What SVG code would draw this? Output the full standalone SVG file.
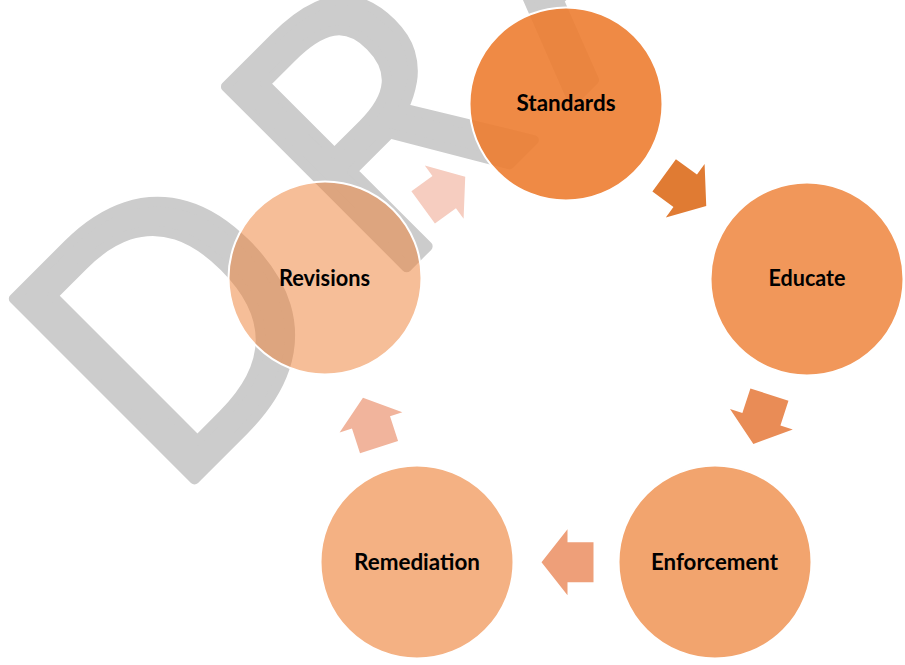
<svg xmlns="http://www.w3.org/2000/svg" width="905" height="665" viewBox="0 0 905 665">
  <style>
    .node { fill: #ED7D31; stroke: #FFFFFF; stroke-width: 2; }
    .label { font-family: Lato, "Open Sans", "Liberation Sans", sans-serif; font-weight: bold; font-size: 22px; fill: #000000; text-anchor: middle; }
    .wm { font-family: "Open Sans", "Noto Sans", sans-serif; font-size: 358px; fill: #CCCCCC; stroke: #CCCCCC; stroke-width: 10; stroke-linejoin: round; }
  </style>
  <defs>
    <polygon id="arrow" points="-26,-20 0,-20 0,-33 26,0 0,33 0,20 -26,20"/>
  </defs>
  <rect width="905" height="665" fill="#FFFFFF"/>
  <g id="watermark" transform="translate(191,483) rotate(-45)">
    <text class="wm"><tspan x="-30" y="0">D</tspan><tspan x="270" y="0">R</tspan><tspan x="540" y="0">A</tspan>FT</text>
  </g>
  <g id="node-standards">
    <circle class="node" cx="566" cy="104" r="96.5" fill-opacity="0.9"/>
    <text class="label" x="566" y="110.5" textLength="99" lengthAdjust="spacingAndGlyphs">Standards</text>
  </g>
  <g id="node-educate">
    <circle class="node" cx="807" cy="279" r="96.5" fill-opacity="0.8"/>
    <text class="label" x="807" y="286" textLength="77" lengthAdjust="spacingAndGlyphs">Educate</text>
  </g>
  <g id="node-enforcement">
    <circle class="node" cx="715" cy="562" r="96.5" fill-opacity="0.7"/>
    <text class="label" x="714.5" y="570" textLength="127" lengthAdjust="spacingAndGlyphs">Enforcement</text>
  </g>
  <g id="node-remediation">
    <circle class="node" cx="417" cy="562" r="96.5" fill-opacity="0.6"/>
    <text class="label" x="417" y="570" textLength="126" lengthAdjust="spacingAndGlyphs">Remediation</text>
  </g>
  <g id="node-revisions">
    <circle class="node" cx="325" cy="278" r="96.5" fill-opacity="0.5"/>
    <text class="label" x="324.5" y="286" textLength="91" lengthAdjust="spacingAndGlyphs">Revisions</text>
  </g>
  <g id="connectors">
    <use href="#arrow" transform="translate(685.2,190.7) rotate(36)" fill="#E07B33"/>
    <use href="#arrow" transform="translate(761.4,419.3) rotate(108)" fill="#E98C56"/>
    <use href="#arrow" transform="translate(567.5,562.3) rotate(180)" fill="#EE9F79"/>
    <use href="#arrow" transform="translate(371,422.4) rotate(252)" fill="#F1B49C"/>
    <use href="#arrow" transform="translate(444.2,192.1) rotate(324)" fill="#F6CDC0"/>
  </g>
</svg>
